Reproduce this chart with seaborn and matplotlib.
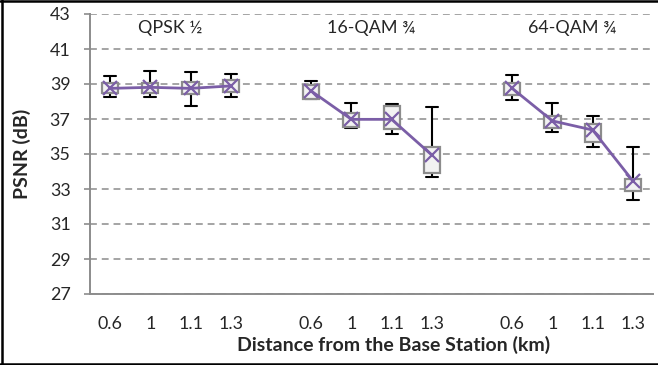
import numpy as np
import pandas as pd
import matplotlib
matplotlib.use("Agg")
import matplotlib.pyplot as plt
from matplotlib.lines import Line2D
import seaborn as sns

# ---- data (PSNR in dB) ----
schemes = ["QPSK ½", "16-QAM ¾", "64-QAM ¾"]
distances = ["0.6", "1", "1.1", "1.3"]

qpsk_min = [38.24, 38.24, 37.76, 38.24]
qpsk_q1 = [38.47, 38.47, 38.41, 38.56]
qpsk_med = [38.75, 38.80, 38.75, 38.90]
qpsk_q3 = [39.04, 39.04, 39.13, 39.23]
qpsk_max = [39.46, 39.76, 39.70, 39.60]
qpsk_mean = [38.75, 38.81, 38.75, 38.89]

qam16_min = [38.12, 36.50, 36.13, 33.70]
qam16_q1 = [38.15, 36.53, 36.41, 33.90]
qam16_med = [38.60, 36.95, 37.00, 34.05]
qam16_q3 = [38.94, 37.33, 37.74, 35.42]
qam16_max = [39.17, 37.93, 37.86, 37.67]
qam16_mean = [38.60, 36.98, 36.98, 34.94]

qam64_min = [38.09, 36.28, 35.42, 32.37]
qam64_q1 = [38.37, 36.47, 35.70, 32.89]
qam64_med = [38.70, 36.85, 36.30, 33.38]
qam64_q3 = [39.04, 37.19, 36.71, 33.57]
qam64_max = [39.51, 37.93, 37.19, 35.42]
qam64_mean = [38.75, 36.89, 36.37, 33.46]

yticks = [27, 29, 31, 33, 35, 37, 39, 41, 43]

groups = [
    (qpsk_min, qpsk_q1, qpsk_med, qpsk_q3, qpsk_max, qpsk_mean),
    (qam16_min, qam16_q1, qam16_med, qam16_q3, qam16_max, qam16_mean),
    (qam64_min, qam64_q1, qam64_med, qam64_q3, qam64_max, qam64_mean),
]

# slots: 4 per group with one blank slot between groups
rows, mean_rows = [], []
for g, (mn, q1, md, q3, mx, mean) in enumerate(groups):
    for i in range(len(distances)):
        slot = g * 5 + i
        for v in (mn[i], q1[i], md[i], q3[i], mx[i]):
            rows.append({"slot": slot, "psnr": v})
        mean_rows.append({"slot": slot, "mean": mean[i], "group": schemes[g]})
df = pd.DataFrame(rows)
means = pd.DataFrame(mean_rows)
n_slots = 5 * len(schemes) - 1

# ---- plot ----
sns.set_style("white")
plt.rcParams["font.family"] = ["Lato", "DejaVu Sans"]

fig = plt.figure(figsize=(6.58, 3.65), dpi=100)
ax = fig.add_axes([90 / 658, 1 - 294 / 365, 563 / 658, 280 / 365])
renderer = fig.canvas.get_renderer()


def fit_size(txt, target_px, weight="normal"):
    t = fig.text(0, 0, txt, fontsize=10, fontweight=weight)
    w = t.get_window_extent(renderer=renderer).width
    t.remove()
    return 10 * target_px / w


lab_fs = fit_size("Distance from the Base Station (km)", 312, "bold")
grp_fs = fit_size("16-QAM ¾", 88)
tick_fs = grp_fs

grey = "#8c8c8c"
purple = "#7b5ea7"

for y in yticks:
    ax.axhline(y, color=grey, lw=1.1, ls=(0, (4.5, 3.2)), zorder=0)

sns.boxplot(
    data=df, x="slot", y="psnr", order=list(range(n_slots)), whis=np.inf,
    width=0.4, color="#f2f2f2", linecolor=grey, linewidth=1.6, ax=ax,
    capwidths=0.3,
    whiskerprops={"color": "black", "linewidth": 1.5},
    capprops={"color": "black", "linewidth": 1.5},
    medianprops={"color": grey, "linewidth": 1.4},
    boxprops={"facecolor": "#f2f2f2", "edgecolor": grey, "zorder": 3},
)

sns.lineplot(
    data=means, x="slot", y="mean", units="group", estimator=None,
    color=purple, lw=2.0, marker="x", markersize=10, markeredgewidth=1.6,
    markeredgecolor=purple, ax=ax, zorder=5, legend=False,
)

ax.set_xlim(-0.5, n_slots - 0.5)
ax.set_ylim(27, 43)
ax.set_yticks(yticks)
ax.set_yticklabels([str(t) for t in yticks], fontsize=tick_fs)
labels = []
for g in range(len(schemes)):
    labels += distances
    if g < len(schemes) - 1:
        labels.append("")
ax.set_xticks(range(n_slots))
ax.set_xticklabels(labels, fontsize=tick_fs)
ax.tick_params(axis="x", length=0, pad=16)
ax.tick_params(axis="y", length=4, width=1.2, color=grey, pad=10, left=True)

for g, name in enumerate(schemes):
    ax.text(g * 5 + 1.5, 42.2, name, ha="center", va="center", fontsize=grp_fs)

for s in ["top", "right"]:
    ax.spines[s].set_visible(False)
for s in ["left", "bottom"]:
    ax.spines[s].set_color(grey)
    ax.spines[s].set_linewidth(1.4)

ax.set_xlabel("Distance from the Base Station (km)", fontsize=lab_fs,
              fontweight="bold")
ax.xaxis.set_label_coords(0.54, -0.15)
ax.set_ylabel("PSNR (dB)", fontsize=lab_fs, fontweight="bold")
ax.yaxis.set_label_coords(-0.105, 0.5)

# chart-area border (top, left, bottom)
for xs, ys in [([0, 1], [0.996, 0.996]), ([0.003, 0.003], [0, 1]), ([0, 1], [0.004, 0.004])]:
    fig.add_artist(Line2D(xs, ys, transform=fig.transFigure, color="black", lw=1.8))

fig.savefig("out.png", dpi=100)
